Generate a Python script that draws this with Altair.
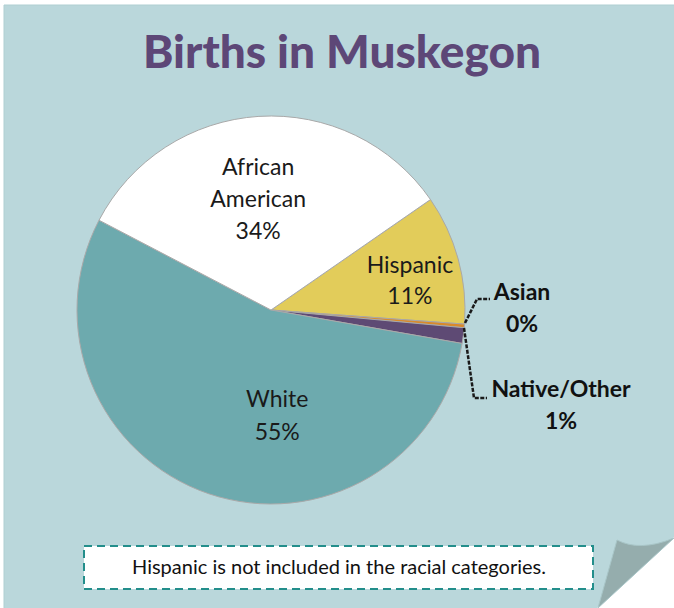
import altair as alt
import pandas as pd

# Data (clockwise from the Hispanic slice)
categories = ["Hispanic", "Asian", "Native/Other", "White", "African American"]
shares = [10.8, 0.3, 1.3, 54.9, 32.7]          # slice sizes as drawn (%)
labels = ["Hispanic\n11%", "Asian\n0%", "Native/Other\n1%", "White\n55%", "African\nAmerican\n34%"]
colors = ["#E2CC5A", "#D98A2B", "#5E4A74", "#6DAAAE", "#FFFFFF"]

title_text = "Births in Muskegon"
note_text = "Hispanic is not included in the racial categories."

df = pd.DataFrame({"cat": categories, "value": shares, "label": labels,
                   "order": list(range(len(categories)))})

W, H = 674, 608
CX, CY, R = 271, 310, 194
START = 0.965  # radians, clockwise from 12 o'clock
one = alt.Data(values=[{}])

panel = alt.Chart(one).mark_rect(color="#BAD7DB", stroke="#AFCFD2", strokeWidth=1).encode(
    x=alt.value(4), x2=alt.value(W + 2), y=alt.value(5), y2=alt.value(H + 2))

corner = alt.Chart(one).mark_point(
    shape="M597,608 L674,537 L674,608 Z", size=4, filled=True, fill="white",
    opacity=1, strokeWidth=0).encode(x=alt.value(0), y=alt.value(0))
fold = alt.Chart(one).mark_point(
    shape="M617,540 Q640,552 674,538 L598,608 Z", size=4, filled=True, fill="#95ADAD",
    opacity=1, stroke="#A9C6C8", strokeWidth=1).encode(x=alt.value(0), y=alt.value(0))

title = alt.Chart(one).mark_text(
    text=title_text, font="Lato", fontWeight=900, fontSize=46,
    color="#5D4777", align="center", baseline="alphabetic").encode(
    x=alt.value(342), y=alt.value(68))

theta = alt.Theta("value:Q", stack=True,
                  scale=alt.Scale(range=[START, START + 6.283185307]))
order = alt.Order("order:Q")

pie = alt.Chart(df).mark_arc(radius=R, stroke="#A9A9A9", strokeWidth=1).encode(
    theta=theta, order=order,
    color=alt.Color("cat:N", scale=alt.Scale(domain=categories, range=colors), legend=None),
    x=alt.value(CX), y=alt.value(CY))


def inner_label(cat, r, dx, dy, lh):
    return alt.Chart(df).transform_calculate(
        t=f"datum.cat == '{cat}' ? datum.label : ''").mark_text(
        radius=r, dx=dx, dy=dy, lineBreak="\n", lineHeight=lh, font="Lato",
        fontSize=23, color="#1A1A1A", align="center", baseline="middle").encode(
        theta=theta, order=order, text="t:N", x=alt.value(CX), y=alt.value(CY))


lab_aa = inner_label("African American", 110, -6, -32, 32)
lab_his = inner_label("Hispanic", 144, 0, -6, 31)
lab_wh = inner_label("White", 105, 40, -9, 33)

out_text = dict(font="Lato", fontWeight="bold", fontSize=23, color="#111111",
                lineBreak="\n", lineHeight=32, align="center", baseline="middle")
lab_asian = alt.Chart(one).mark_text(text=labels[1], **out_text).encode(
    x=alt.value(522), y=alt.value(293))
lab_native = alt.Chart(one).mark_text(text=labels[2], **out_text).encode(
    x=alt.value(561), y=alt.value(390))

leader_style = dict(size=4, filled=False, opacity=1, stroke="#1A1A1A", strokeWidth=2.5,
                    strokeDash=[4, 1.5])
lead_asian = alt.Chart(one).mark_point(
    shape="M465,323 L477,299 L490,299", **leader_style).encode(x=alt.value(0), y=alt.value(0))
lead_native = alt.Chart(one).mark_point(
    shape="M464,328 L474,398 L487,398", **leader_style).encode(x=alt.value(0), y=alt.value(0))

box = alt.Chart(one).mark_rect(fill="white", stroke="#238E8B", strokeWidth=2,
                               strokeDash=[8, 5]).encode(
    x=alt.value(84), x2=alt.value(593), y=alt.value(546), y2=alt.value(589))
note = alt.Chart(one).mark_text(text=note_text, font="Lato", fontSize=20, color="#111111",
                                align="center", baseline="middle").encode(
    x=alt.value(339), y=alt.value(568))

chart = alt.layer(panel, corner, fold, title, pie, lab_aa, lab_his, lab_wh,
                  lead_asian, lead_native, lab_asian, lab_native, box, note).properties(
    width=W, height=H, autosize="none", padding=0, background="white"
).configure_view(stroke=None)

chart.save("out.html", embed_options={"renderer": "svg", "actions": False})
